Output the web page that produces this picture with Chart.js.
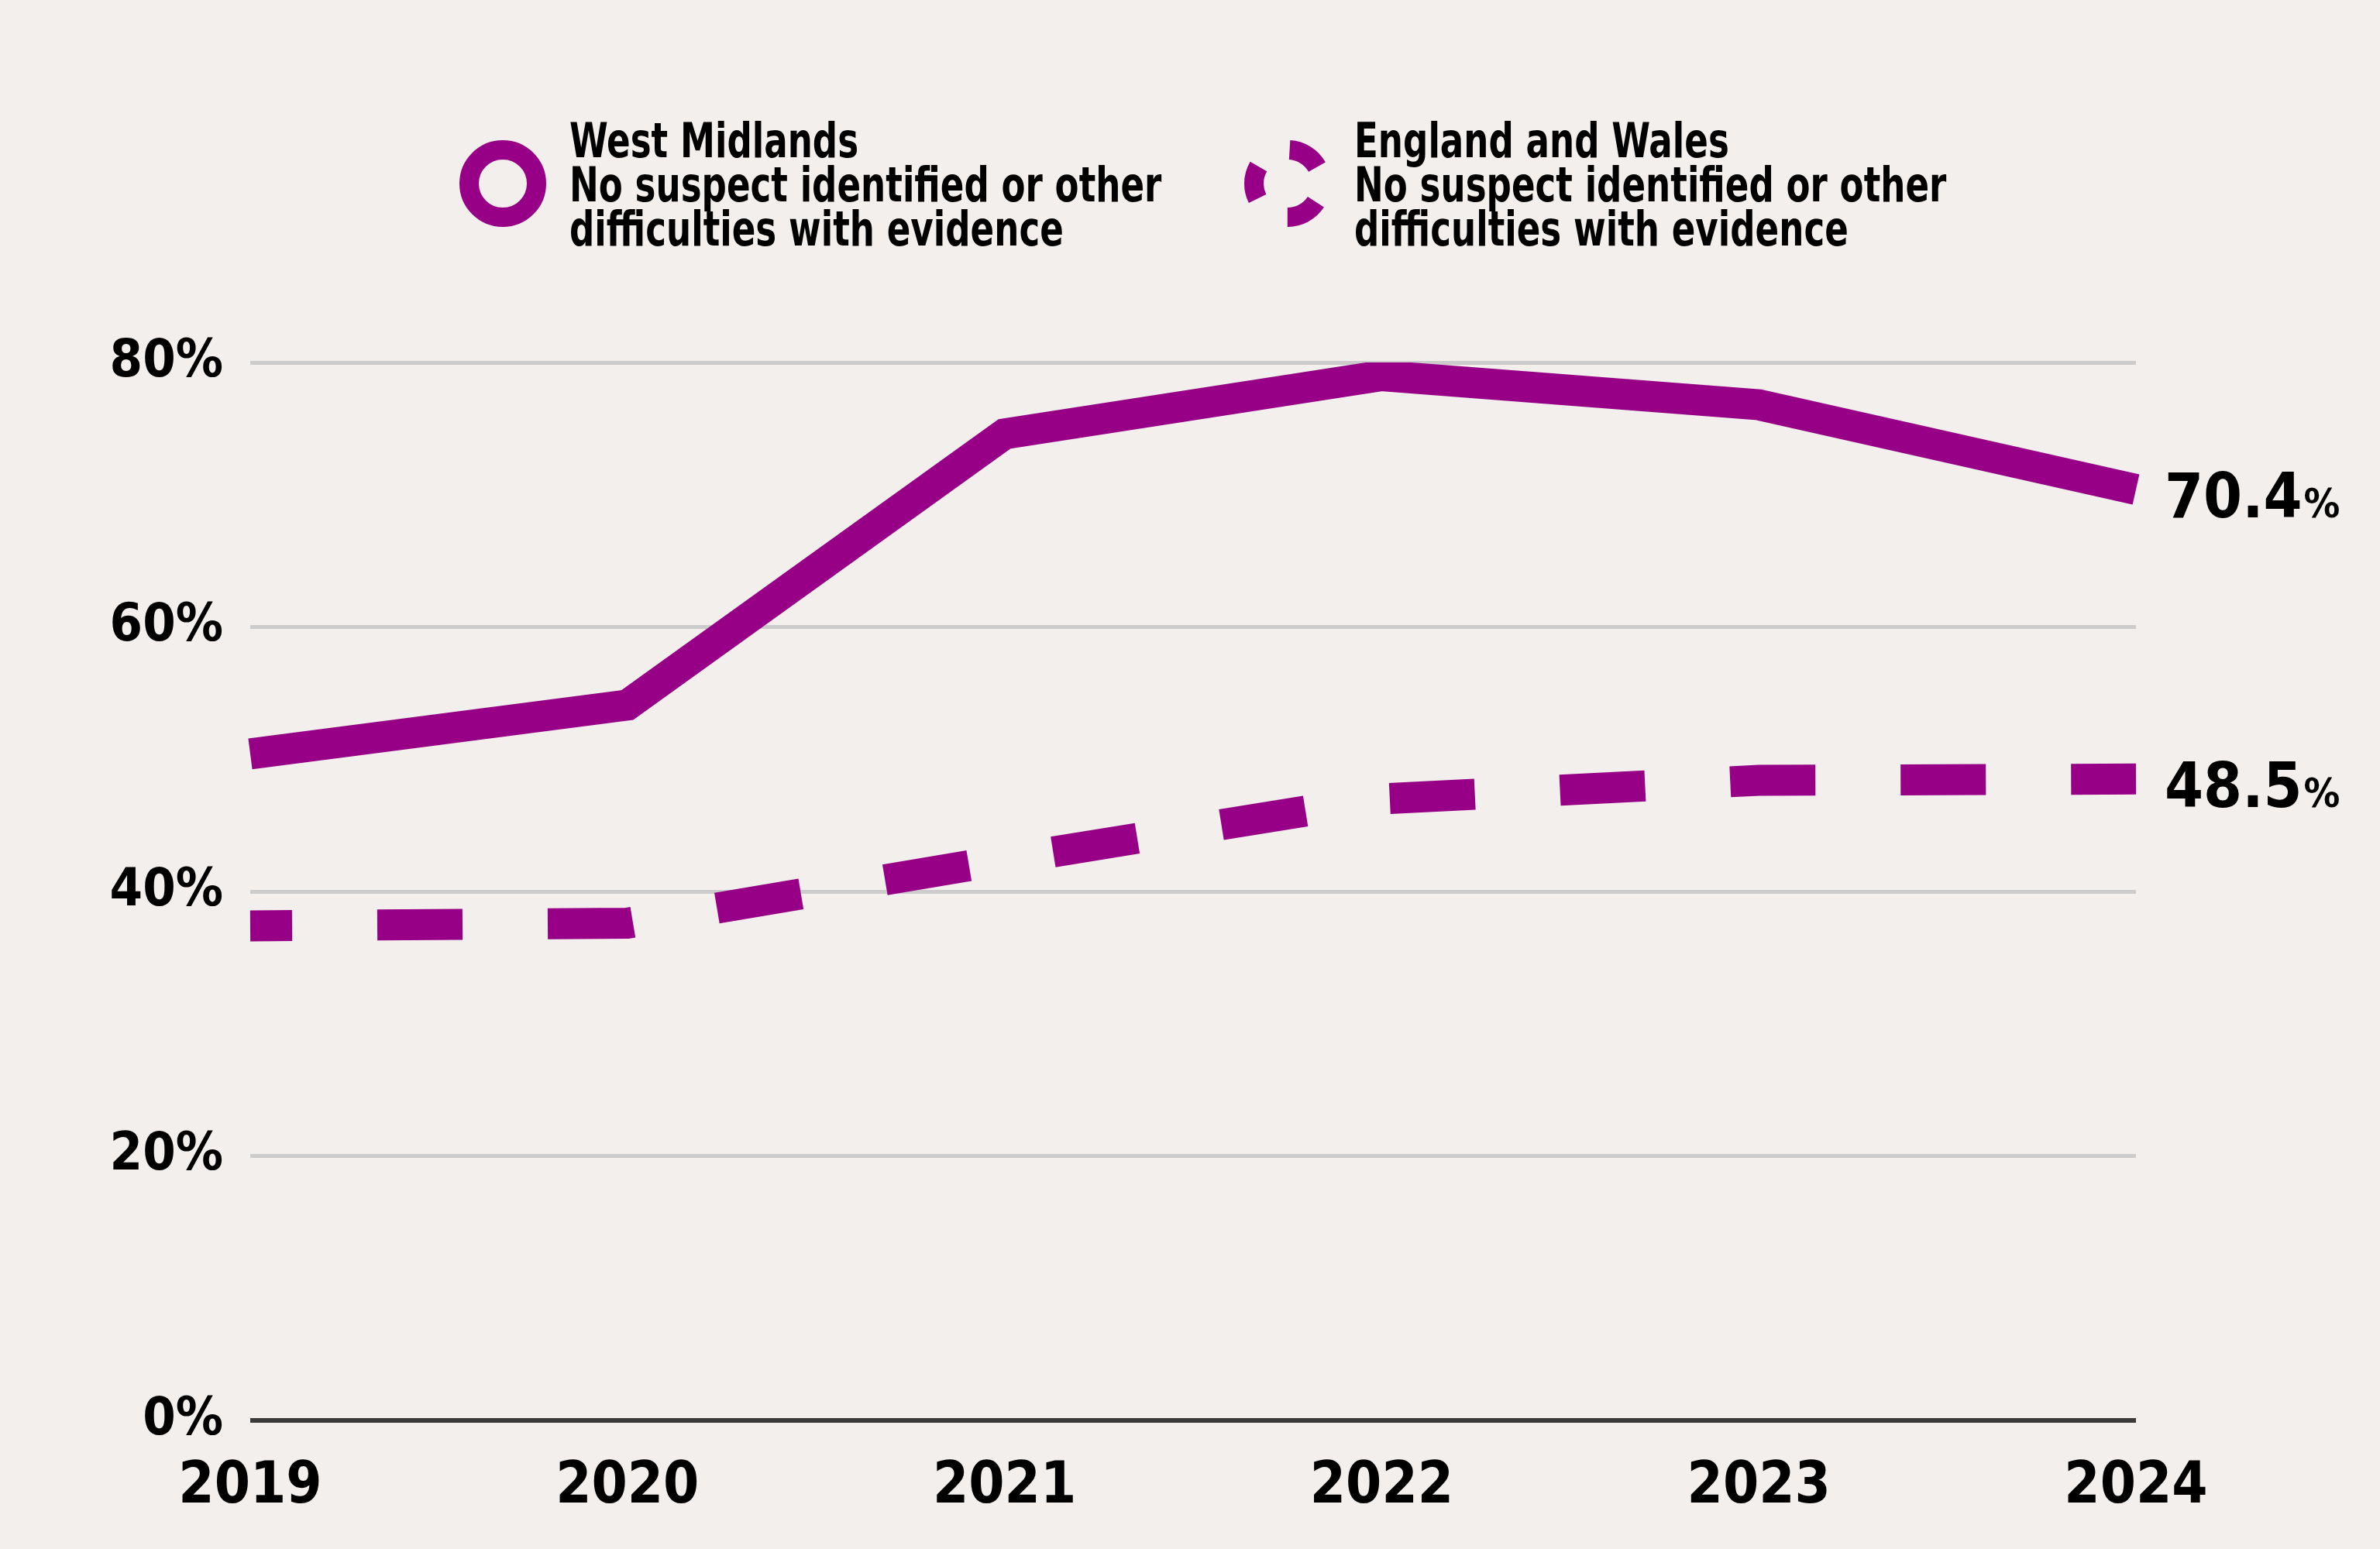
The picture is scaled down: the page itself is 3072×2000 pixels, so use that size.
<!DOCTYPE html>
<html lang="en">
<head>
    <meta charset="UTF-8">
    <title>No suspect identified or other difficulties with evidence</title>
    <script src="https://cdn.jsdelivr.net/npm/chart.js"></script>
    <style>
        html, body { margin: 0; padding: 0; background: #f2efec; }
        body { width: 3072px; height: 2000px; position: relative; overflow: hidden;
               font-family: "DejaVu Sans Condensed", "DejaVu Sans", sans-serif; }
        .wrap { position: absolute; left: 0; top: 0; width: 3072px; height: 2000px; }
        .key-icon { position: absolute; top: 181px; }
        .key-text { position: absolute; top: 153px; font-size: 62px; line-height: 57px;
                    font-weight: bold; color: #000; white-space: nowrap;
                    transform: scaleX(0.81); transform-origin: left top; }
    </style>
</head>
<body>
    <div class="wrap"><canvas id="chart"></canvas></div>

    <svg class="key-icon" style="left:593px" width="112" height="112">
        <circle cx="56" cy="56" r="43.5" fill="none" stroke="#970086" stroke-width="25"/>
    </svg>
    <div class="key-text" style="left:735px">West Midlands<br>No suspect identified or other<br>difficulties with evidence</div>

    <svg class="key-icon" style="left:1606px" width="112" height="112">
        <circle cx="56" cy="56" r="43.5" fill="none" stroke="#970086" stroke-width="25"
                stroke-dasharray="43.3 47.8" stroke-dashoffset="66"/>
    </svg>
    <div class="key-text" style="left:1748px">England and Wales<br>No suspect identified or other<br>difficulties with evidence</div>

    <script>
        const years = ['2019', '2020', '2021', '2022', '2023', '2024'];
        const westMidlands = [50.4, 54.1, 74.6, 79.0, 76.8, 70.4];
        const englandWales = [37.4, 37.6, 42.4, 47.0, 48.4, 48.5];
        const yTicks = [0, 20, 40, 60, 80];

        const purple = '#970086';
        const font = "'DejaVu Sans Condensed', 'DejaVu Sans', sans-serif";

        // value labels at the end of each line
        const endLabels = {
            id: 'endLabels',
            afterDatasetsDraw(chart) {
                const ctx = chart.ctx;
                ctx.save();
                ctx.fillStyle = '#000';
                ctx.textBaseline = 'alphabetic';
                chart.data.datasets.forEach((ds, i) => {
                    const meta = chart.getDatasetMeta(i);
                    const pt = meta.data[meta.data.length - 1];
                    const txt = ds.data[ds.data.length - 1].toFixed(1);
                    const x = pt.x + 37, y = pt.y + 36;
                    ctx.font = 'bold 80px ' + font;
                    ctx.fillText(txt, x, y);
                    const w = ctx.measureText(txt).width;
                    ctx.font = 'bold 52px ' + font;
                    ctx.fillText('%', x + w + 2, y);
                });
                ctx.restore();
            }
        };

        new Chart(document.getElementById('chart'), {
            type: 'line',
            data: {
                labels: years,
                datasets: [
                    { label: 'West Midlands', data: westMidlands, borderColor: purple,
                      borderWidth: 40, pointRadius: 0, tension: 0, borderJoinStyle: 'miter' },
                    { label: 'England and Wales', data: englandWales, borderColor: purple,
                      borderWidth: 40, pointRadius: 0, tension: 0, borderJoinStyle: 'miter',
                      borderDash: [110, 110], borderDashOffset: 56 }
                ]
            },
            options: {
                responsive: true,
                maintainAspectRatio: false,
                devicePixelRatio: 1,
                animation: false,
                layout: { padding: { top: 468, right: 315, left: 0, bottom: 0 } },
                plugins: { legend: { display: false }, tooltip: { enabled: false } },
                scales: {
                    x: {
                        offset: false,
                        grid: { display: false },
                        border: { display: false },
                        ticks: { color: '#000', padding: 34, maxRotation: 0,
                                 font: { family: font, size: 74, weight: 'bold' } },
                        afterFit(s) { s.height = 166; }
                    },
                    y: {
                        min: 0, max: 80,
                        afterBuildTicks(s) { s.ticks = yTicks.map(v => ({ value: v })); },
                        grid: {
                            drawTicks: false,
                            color: c => c.tick.value === 0 ? '#3a3a3a' : '#cccccc',
                            lineWidth: c => c.tick.value === 0 ? 6 : 5
                        },
                        border: { display: false },
                        ticks: { color: '#000', padding: 35, callback: v => v + '%',
                                 font: { family: font, size: 68, weight: 'bold' } },
                        afterFit(s) { s.width = 323; }
                    }
                }
            },
            plugins: [endLabels]
        });
    </script>
</body>
</html>
